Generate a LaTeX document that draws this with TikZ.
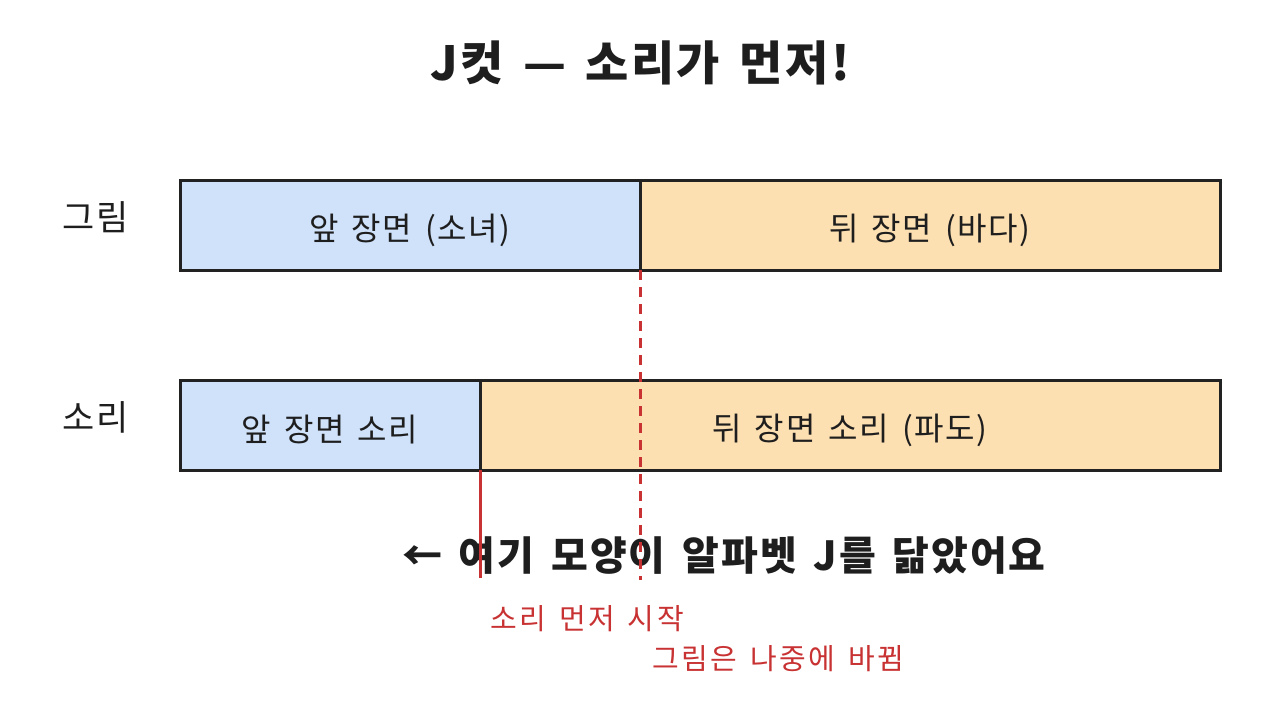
\documentclass[tikz,border=0pt]{standalone}
\usepackage{fontspec}
\setmainfont{Noto Sans CJK KR}[WordSpace=1.5,LetterSpace=5]
\definecolor{boxblue}{RGB}{207,226,250}
\definecolor{boxorange}{RGB}{253,224,178}
\definecolor{edge}{RGB}{34,34,34}
\definecolor{cutred}{RGB}{200,50,50}
\definecolor{ink}{RGB}{30,30,30}
\tikzset{
  seg/.style={draw=edge,line width=3pt,inner sep=0pt,outer sep=0pt,anchor=north west},
  segtext/.style={font=\fontsize{32}{34}\selectfont,text=ink},
  side/.style={font=\fontsize{35}{40}\selectfont,text=ink},
  redlbl/.style={font=\fontsize{29}{32}\selectfont\addfontfeature{LetterSpace=8},text=cutred,anchor=west,inner sep=0pt},
  cutline/.style={draw=cutred,line width=3pt}
}
\begin{document}
\begin{tikzpicture}[x=1pt,y=-1pt]
\useasboundingbox (0,0) rectangle (1280,720);
\fill[white] (0,0) rectangle (1280,720);
% title
\node[font=\bfseries\fontsize{47}{50}\selectfont,text=ink] (title) at (640,63) {J컷 — 소리가 먼저!};
% side labels
\node[side] (lpic) at (96,217) {그림};
\node[side] (lsnd) at (96,417) {소리};
% picture track
\node[seg,fill=boxblue,minimum width=460pt,minimum height=90pt] (picA) at (180,180) {};
\node[seg,fill=boxorange,minimum width=580pt,minimum height=90pt] (picB) at (640,180) {};
\node[segtext] (picAt) at ([yshift=-5pt]picA.center) {앞 장면 (소녀)};
\node[segtext] (picBt) at ([yshift=-5pt]picB.center) {뒤 장면 (바다)};
% sound track
\node[seg,fill=boxblue,minimum width=300pt,minimum height=90pt] (sndA) at (180,380) {};
\node[seg,fill=boxorange,minimum width=740pt,minimum height=90pt] (sndB) at (480,380) {};
\node[segtext] (sndAt) at ([yshift=-5pt]sndA.center) {앞 장면 소리};
\node[segtext] (sndBt) at ([yshift=-5pt]sndB.center) {뒤 장면 소리 (파도)};
% note
\node[font=\bfseries\fontsize{40}{42}\selectfont,text=ink] (note) at (724,556) {← 여기 모양이 알파벳 J를 닮았어요};
% cut lines
\coordinate (picEnd) at (640,580);
\coordinate (sndEnd) at (480,578);
\draw[cutline,dash pattern=on 10pt off 7pt] (picA.south east) -- (picEnd);
\draw[cutline] (sndA.south east) -- (sndEnd);
% red labels
\node[redlbl] (sndStart) at (490,619) {소리 먼저 시작};
\node[redlbl] (picLater) at (652,659) {그림은 나중에 바뀜};
\end{tikzpicture}
\end{document}
